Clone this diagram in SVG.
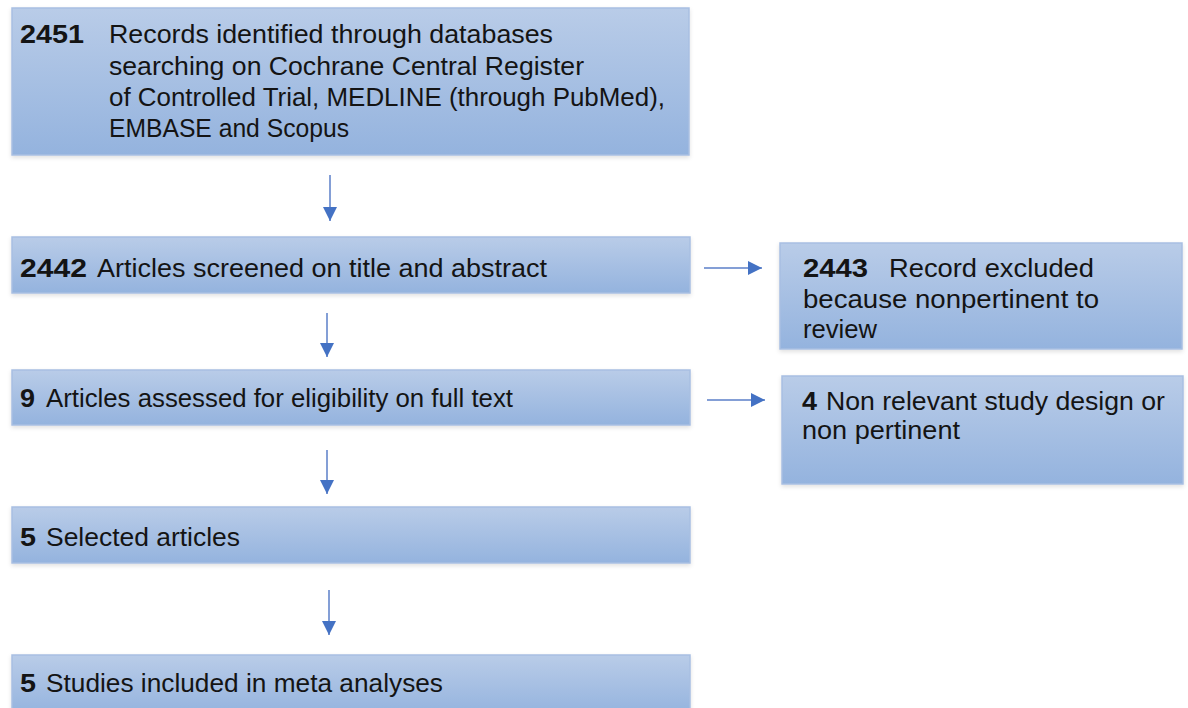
<svg xmlns="http://www.w3.org/2000/svg" width="1188" height="708" viewBox="0 0 1188 708">
<defs>
<linearGradient id="bg" x1="0" y1="0" x2="0" y2="1">
<stop offset="0" stop-color="#b9cce8"/>
<stop offset="1" stop-color="#94b3de"/>
</linearGradient>
<filter id="sh" x="-5%" y="-10%" width="110%" height="130%">
<feDropShadow dx="0" dy="2" stdDeviation="2" flood-color="#000" flood-opacity="0.12"/>
</filter>
<marker id="ah" viewBox="0 0 14 14" refX="14" refY="7" markerWidth="14" markerHeight="14" markerUnits="userSpaceOnUse" orient="auto">
<path d="M0,0 L14,7 L0,14 Z" fill="#4472c4"/>
</marker>
</defs>
<style>
.box{fill:url(#bg);stroke:#a8bfe2;stroke-width:1.5;filter:url(#sh)}
text{font-family:"Liberation Sans",Arial,sans-serif;font-size:25px;fill:#141414}
.b{font-weight:bold}
.c{stroke:#5b7fc9;stroke-width:1.5;fill:none;marker-end:url(#ah)}
</style>
<rect width="1188" height="708" fill="#ffffff"/>
<g id="n1">
<rect class="box" x="12" y="8" width="677" height="147"/>
<text class="b" x="20" y="43" textLength="64" lengthAdjust="spacingAndGlyphs">2451</text>
<text x="109" y="43" textLength="444" lengthAdjust="spacingAndGlyphs">Records identified through databases</text>
<text x="109" y="75" textLength="475" lengthAdjust="spacingAndGlyphs">searching on Cochrane Central Register</text>
<text x="109" y="106" textLength="556" lengthAdjust="spacingAndGlyphs">of Controlled Trial, MEDLINE (through PubMed),</text>
<text x="109" y="137" textLength="240" lengthAdjust="spacingAndGlyphs">EMBASE and Scopus</text>
</g>
<g id="n2">
<rect class="box" x="12" y="237" width="678" height="56"/>
<text class="b" x="20" y="277" textLength="67" lengthAdjust="spacingAndGlyphs">2442</text>
<text x="97" y="277" textLength="450" lengthAdjust="spacingAndGlyphs">Articles screened on title and abstract</text>
</g>
<g id="n3">
<rect class="box" x="780" y="243" width="402" height="106"/>
<text class="b" x="803" y="277" textLength="65" lengthAdjust="spacingAndGlyphs">2443</text>
<text x="889" y="277" textLength="205" lengthAdjust="spacingAndGlyphs">Record excluded</text>
<text x="803" y="308" textLength="296" lengthAdjust="spacingAndGlyphs">because nonpertinent to</text>
<text x="803" y="338" textLength="74" lengthAdjust="spacingAndGlyphs">review</text>
</g>
<g id="n4">
<rect class="box" x="12" y="370" width="678" height="55"/>
<text class="b" x="20" y="407" textLength="15" lengthAdjust="spacingAndGlyphs">9</text>
<text x="46" y="407" textLength="467" lengthAdjust="spacingAndGlyphs">Articles assessed for eligibility on full text</text>
</g>
<g id="n5">
<rect class="box" x="782" y="376" width="401" height="108"/>
<text class="b" x="802" y="410" textLength="15" lengthAdjust="spacingAndGlyphs">4</text>
<text x="826" y="410" textLength="339" lengthAdjust="spacingAndGlyphs">Non relevant study design or</text>
<text x="802" y="439" textLength="158" lengthAdjust="spacingAndGlyphs">non pertinent</text>
</g>
<g id="n6">
<rect class="box" x="12" y="507" width="678" height="56"/>
<text class="b" x="20" y="546" textLength="16" lengthAdjust="spacingAndGlyphs">5</text>
<text x="46" y="546" textLength="194" lengthAdjust="spacingAndGlyphs">Selected articles</text>
</g>
<g id="n7">
<rect class="box" x="12" y="655" width="678" height="60"/>
<text class="b" x="20" y="692" textLength="16" lengthAdjust="spacingAndGlyphs">5</text>
<text x="46" y="692" textLength="397" lengthAdjust="spacingAndGlyphs">Studies included in meta analyses</text>
</g>
<g id="connectors">
<line class="c" x1="330" y1="175" x2="330" y2="221"/>
<line class="c" x1="327" y1="313" x2="327" y2="357"/>
<line class="c" x1="327" y1="450" x2="327" y2="494"/>
<line class="c" x1="329" y1="590" x2="329" y2="635"/>
<line class="c" x1="704" y1="268" x2="762" y2="268"/>
<line class="c" x1="707" y1="400" x2="765" y2="400"/>
</g>
</svg>
